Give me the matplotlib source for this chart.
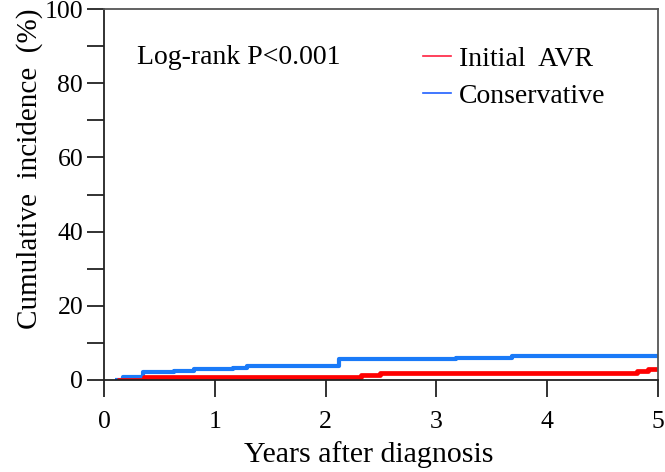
import matplotlib
matplotlib.use("Agg")
import matplotlib.pyplot as plt
from matplotlib.lines import Line2D

# Step data (years, cumulative incidence %)
avr_t = [0.12, 0.36, 0.60, 2.32, 2.49, 4.11, 4.81, 4.91, 5.0]
avr_y = [0.0, 0.7, 0.9, 1.35, 1.8, 2.0, 2.5, 3.0, 3.0]
cons_t = [0.10, 0.17, 0.35, 0.63, 0.81, 1.16, 1.29, 2.12, 3.18, 3.68, 5.0]
cons_y = [0.0, 0.7, 2.1, 2.5, 2.9, 3.3, 3.8, 5.6, 6.0, 6.4, 6.4]

xticks = [0, 1, 2, 3, 4, 5]
yticks = [0, 20, 40, 60, 80, 100]
label_avr = "Initial  AVR"
label_cons = "Conservative"
annot = "Log-rank P<0.001"

plt.rcParams['font.family'] = ['Liberation Serif', 'DejaVu Serif']

fig = plt.figure(figsize=(6.65, 4.72), dpi=100)
ax = fig.add_axes([104/665, 1-380/472, (658-104)/665, (380-9)/472])

ax.step(cons_t, cons_y, where='post', color='#1a7af8', lw=3.0, solid_capstyle='butt')
ax.step(avr_t, avr_y, where='post', color='#ff0000', lw=3.4, solid_capstyle='butt')

ax.set_xlim(0, 5)
ax.set_ylim(0, 100)
ax.set_xticks(xticks)
ax.set_yticks(yticks)
ax.set_yticks([10, 30, 50, 70, 90], minor=True)
ax.tick_params(axis='both', which='major', direction='out', length=12, width=1.3,
               labelsize=18.5, color='#222222')
ax.tick_params(axis='x', which='major', pad=10)
ax.tick_params(axis='y', which='major', pad=3)
ax.tick_params(axis='y', which='minor', direction='out', length=12, width=1.3, color='#222222')
for s in ax.spines.values():
    s.set_linewidth(1.3)
    s.set_color('#222222')
ax.spines['right'].set_color('#555555')
ax.spines['top'].set_color('#555555')

ax.set_xlabel("Years after diagnosis", fontsize=21.5, va='top')
ax.xaxis.set_label_coords(0.477, -0.164)
ax.set_ylabel("Cumulative  incidence  (%)", fontsize=21)
ax.yaxis.label.set_verticalalignment('center')
ax.yaxis.label.set_horizontalalignment('center')
ax.yaxis.set_label_coords(-0.135, 0.569)

ax.text(0.06, 0.868, annot, transform=ax.transAxes, fontsize=20, va='center', ha='left')

handles = [Line2D([], [], color='#ff2040', lw=1.2), Line2D([], [], color='#2060ff', lw=1.2)]
leg = ax.legend(handles, [label_avr, label_cons], loc='upper left',
                bbox_to_anchor=(0.556, 0.929), frameon=False, fontsize=20,
                handlelength=1.0, handletextpad=0.3, labelspacing=0.42,
                borderaxespad=0.0)

fig.savefig("out.png", dpi=100)
